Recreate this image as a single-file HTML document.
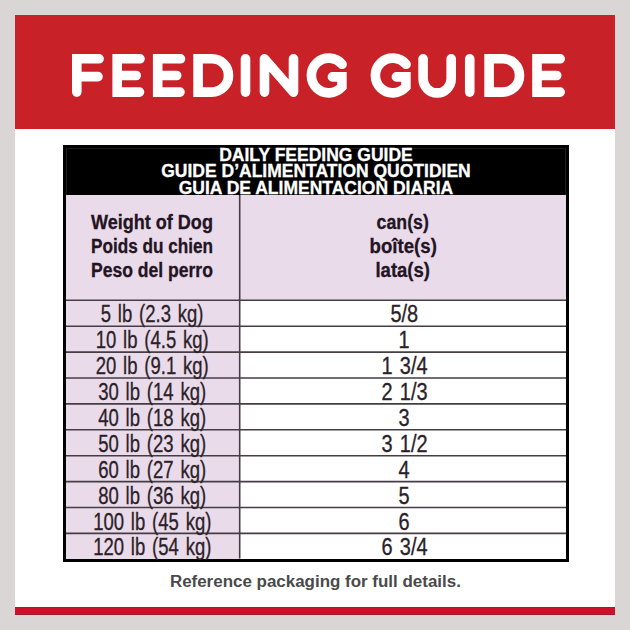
<!DOCTYPE html>
<html><head><meta charset="utf-8">
<style>
html,body{margin:0;padding:0;}
body{width:630px;height:630px;background:#dad6d6;position:relative;overflow:hidden;font-family:"Liberation Sans",sans-serif;}
.card{position:absolute;left:15px;top:15px;width:600px;height:600px;background:#fff;}
.redhead{position:absolute;left:15px;top:15px;width:600px;height:113.5px;background:#c82228;}
.stripe{position:absolute;left:15px;top:607px;width:600px;height:7.7px;background:#ce112a;box-shadow:inset 0 1px 0 #a31b2e, inset 0 -1px 0 #a31b2e;}
svg.title{position:absolute;left:0;top:0;}
.tbl{position:absolute;left:63px;top:145px;width:506px;height:416.5px;background:#000;}
.lav{position:absolute;left:66px;top:195px;width:500px;height:363.5px;background:#fff;}
.lavL{position:absolute;left:66px;top:195px;width:173.5px;height:363.5px;background:#eadbea;}
.lavR{position:absolute;left:239.5px;top:195px;width:326.5px;height:105.5px;background:#eadbea;}
.hline{position:absolute;left:66px;width:500px;height:1.6px;background:#443d44;}
.vline{position:absolute;left:238.9px;top:195px;width:1.6px;height:363.5px;background:#443d44;}
.hd{position:absolute;left:63px;width:506px;text-align:center;color:#fff;font-weight:bold;font-size:17.5px;line-height:16px;white-space:nowrap;-webkit-text-stroke:0.3px #fff;}
.hd span,.hw span,.cell span,.foot span{display:inline-block;transform-origin:50% 50%;}
.hw span{transform-origin:0 50%;}
.hw.hc span{transform-origin:50% 50%;}
.cell span{transform-origin:50% 73%;}
.cell.l span{transform:scale(0.841,1.05);}
.cell.r span{transform:scale(0.906,1.05);}
.foot span{transform:scaleX(1.059);}
.hw{position:absolute;color:#231423;font-weight:bold;font-size:19.5px;white-space:nowrap;line-height:21px;-webkit-text-stroke:0.3px #231423;}
.cell{position:absolute;color:#2a2228;font-size:22px;white-space:nowrap;line-height:30px;text-align:center;-webkit-text-stroke:0.3px #2a2228;word-spacing:2px;}
.foot{position:absolute;left:15px;width:600px;text-align:center;color:#4a4a4a;font-weight:bold;font-size:16px;white-space:nowrap;}
</style></head><body>
<div class="card"></div>
<div class="redhead"></div>
<svg class="title" width="630" height="130" viewBox="0 0 630 130">
<g fill="none" stroke="#fff" stroke-width="9.6" stroke-linecap="round" stroke-linejoin="miter">
<path d="M99.10000000000001,58.8 H76.8 V92.1 M76.8,76.65 H98.0"/>
<path d="M140.0,58.8 H117.2 V92.1 H139.5 M117.2,75.5 H136.2"/>
<path d="M180.5,58.8 H157.70000000000002 V92.1 H180.0 M157.70000000000002,75.5 H176.7"/>
<path d="M198.10000000000002,58.8 H211.85 A16.65,16.65 0 0 1 211.85,92.1 H198.10000000000002 Z"/>
<path d="M245.5,58.8 V92.1"/>
<path stroke-linejoin="round" d="M264.5,92.1 V58.8 L293.5,92.1 V58.8"/>
<path d="M342.1,64.3 A17.4,17.4 0 1 0 341.9,86.95 V76.9 H332.4"/>
<path d="M406.1,64.3 A17.4,17.4 0 1 0 405.9,86.95 V76.9 H396.4"/>
<path d="M423.1,58.8 V78.85 A14.05,14.05 0 0 0 451.2,78.85 V58.8"/>
<path d="M469.75,58.8 V92.1"/>
<path d="M489.1,58.8 H502.85 A16.65,16.65 0 0 1 502.85,92.1 H489.1 Z"/>
<path d="M560.2,58.8 H537.0 V92.1 H560.2 M537.0,75.5 H556.7"/>
</g>
</svg>
<div class="tbl"></div>
<div style="position:absolute;left:66px;top:147.5px;width:500px;height:48px;box-sizing:border-box;border:1px solid #1c1c1c;border-bottom:none;"></div>
<div class="lav"></div>
<div class="lavL"></div>
<div class="lavR"></div>
<div class="hd" style="top:147px"><span>DAILY FEEDING GUIDE</span></div>
<div class="hd" style="top:162.5px"><span>GUIDE D’ALIMENTATION QUOTIDIEN</span></div>
<div class="hd" style="top:179.5px"><span>GUIA DE ALIMENTACION DIARIA</span></div>
<div class="hw" style="left:91px;top:211.5px"><span style="transform:scaleX(0.925)">Weight of Dog</span></div>
<div class="hw" style="left:91px;top:235.5px"><span style="transform:scaleX(0.88)">Poids du chien</span></div>
<div class="hw" style="left:91px;top:259.8px"><span style="transform:scaleX(0.9)">Peso del perro</span></div>
<div class="hw hc" style="left:240px;width:326px;text-align:center;top:211.5px"><span style="transform:scaleX(0.91)">can(s)</span></div>
<div class="hw hc" style="left:240px;width:326px;text-align:center;top:235.5px"><span style="transform:scaleX(0.955)">boîte(s)</span></div>
<div class="hw hc" style="left:240px;width:326px;text-align:center;top:259.8px"><span style="transform:scaleX(0.95)">lata(s)</span></div>
<svg style="position:absolute;left:0;top:0" width="630" height="630"><g stroke="#443d44" stroke-width="1.6"><line x1="66" y1="300.30" x2="566" y2="300.30"/><line x1="66" y1="326.20" x2="566" y2="326.20"/><line x1="66" y1="352.10" x2="566" y2="352.10"/><line x1="66" y1="378.00" x2="566" y2="378.00"/><line x1="66" y1="403.90" x2="566" y2="403.90"/><line x1="66" y1="429.80" x2="566" y2="429.80"/><line x1="66" y1="455.70" x2="566" y2="455.70"/><line x1="66" y1="481.60" x2="566" y2="481.60"/><line x1="66" y1="507.50" x2="566" y2="507.50"/><line x1="66" y1="533.40" x2="566" y2="533.40"/><line x1="239.7" y1="195" x2="239.7" y2="558.5"/></g></svg>
<div class="cell l" style="left:66px;width:173px;top:300.30px"><span>5 lb (2.3 kg)</span></div>
<div class="cell r" style="left:241.2px;width:326px;top:300.30px"><span>5/8</span></div>
<div class="cell l" style="left:66px;width:173px;top:326.20px"><span>10 lb (4.5 kg)</span></div>
<div class="cell r" style="left:241.2px;width:326px;top:326.20px"><span>1</span></div>
<div class="cell l" style="left:66px;width:173px;top:352.10px"><span>20 lb (9.1 kg)</span></div>
<div class="cell r" style="left:241.2px;width:326px;top:352.10px"><span>1 3/4</span></div>
<div class="cell l" style="left:66px;width:173px;top:378.00px"><span>30 lb (14 kg)</span></div>
<div class="cell r" style="left:241.2px;width:326px;top:378.00px"><span>2 1/3</span></div>
<div class="cell l" style="left:66px;width:173px;top:403.90px"><span>40 lb (18 kg)</span></div>
<div class="cell r" style="left:241.2px;width:326px;top:403.90px"><span>3</span></div>
<div class="cell l" style="left:66px;width:173px;top:429.80px"><span>50 lb (23 kg)</span></div>
<div class="cell r" style="left:241.2px;width:326px;top:429.80px"><span>3 1/2</span></div>
<div class="cell l" style="left:66px;width:173px;top:455.70px"><span>60 lb (27 kg)</span></div>
<div class="cell r" style="left:241.2px;width:326px;top:455.70px"><span>4</span></div>
<div class="cell l" style="left:66px;width:173px;top:481.60px"><span>80 lb (36 kg)</span></div>
<div class="cell r" style="left:241.2px;width:326px;top:481.60px"><span>5</span></div>
<div class="cell l" style="left:66px;width:173px;top:507.50px"><span>100 lb (45 kg)</span></div>
<div class="cell r" style="left:241.2px;width:326px;top:507.50px"><span>6</span></div>
<div class="cell l" style="left:66px;width:173px;top:533.40px"><span>120 lb (54 kg)</span></div>
<div class="cell r" style="left:241.2px;width:326px;top:533.40px"><span>6 3/4</span></div>
<div class="foot" style="top:573px"><span>Reference packaging for full details.</span></div>
<div class="stripe"></div>
</body></html>
